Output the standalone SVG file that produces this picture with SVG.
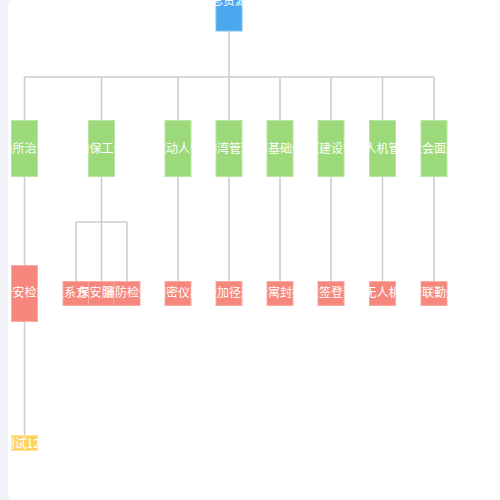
<svg xmlns="http://www.w3.org/2000/svg" width="500" height="500" viewBox="0 0 500 500">
<style>
.lk{fill:none;stroke:#cccccc;stroke-width:1.5}
.t{font-family:"Noto Sans CJK SC","Noto Sans",sans-serif;font-size:12px;fill:#ffffff;text-anchor:middle}
.b{fill:#4ba8ee;stroke:#7cc0f3;stroke-width:1}
.g{fill:#9bd97b;stroke:#b8e6a2;stroke-width:1}
.r{fill:#f5877d;stroke:#f8aaa3;stroke-width:1}
.y{fill:#fdd562;stroke:#fee28f;stroke-width:1}
</style>
<rect x="0" y="0" width="500" height="500" fill="#ffffff"/>
<g id="connectors">
<path class="lk" d="M229 31V77M24.5 77H434.5"/>
<path class="lk" d="M24.5 77V120M101.5 77V120M178 77V120M229 77V120M280 77V120M331 77V120M382.5 77V120M434 77V120"/>
<path class="lk" d="M24.5 177V265M24.5 322V435"/>
<path class="lk" d="M101.5 177V281M76 222H127M76 222V281M127 222V281"/>
<path class="lk" d="M178 177V281M229 177V281M280 177V281M331 177V281M382.5 177V281M434 177V281"/>
</g>
<g id="root"><rect class="b" x="216" y="-10" width="26" height="41"/><text class="t" x="229" y="5">总资源</text></g>
<g id="n1"><rect class="g" x="11.5" y="120.5" width="26" height="56"/><text class="t" x="24.5" y="153">场所治安</text></g>
<g id="n2"><rect class="g" x="88.5" y="120.5" width="26" height="56"/><text class="t" x="101.5" y="153">内保工作</text></g>
<g id="n3"><rect class="g" x="165" y="120.5" width="26" height="56"/><text class="t" x="178" y="153">流动人管</text></g>
<g id="n4"><rect class="g" x="216" y="120.5" width="26" height="56"/><text class="t" x="229" y="153">港湾管理</text></g>
<g id="n5"><rect class="g" x="267" y="120.5" width="26" height="56"/><text class="t" x="280" y="153">人口基础信息</text></g>
<g id="n6"><rect class="g" x="318" y="120.5" width="26" height="56"/><text class="t" x="331" y="153">队伍建设管理</text></g>
<g id="n7"><rect class="g" x="369.5" y="120.5" width="26" height="56"/><text class="t" x="382.5" y="153">无人机管控</text></g>
<g id="n8"><rect class="g" x="421" y="120.5" width="26" height="56"/><text class="t" x="434" y="153">社会面巡</text></g>
<g id="r1"><rect class="r" x="11.5" y="265.5" width="26" height="56"/><text class="t" x="24.5" y="297">治安检查</text></g>
<g id="r2"><rect class="r" x="63" y="281.5" width="26" height="24"/><text class="t" x="76" y="297">联系方式</text></g>
<g id="r3"><rect class="r" x="88.5" y="281.5" width="26" height="24"/><text class="t" x="101.5" y="297">保安服务</text></g>
<g id="r4"><rect class="r" x="114" y="281.5" width="26" height="24"/><text class="t" x="127" y="297">消防检查</text></g>
<g id="r5"><rect class="r" x="165" y="281.5" width="26" height="24"/><text class="t" x="178" y="297">精密仪器</text></g>
<g id="r6"><rect class="r" x="216" y="281.5" width="26" height="24"/><text class="t" x="229" y="297">叠加径迹</text></g>
<g id="r7"><rect class="r" x="267" y="281.5" width="26" height="24"/><text class="t" x="280" y="297">公寓封控</text></g>
<g id="r8"><rect class="r" x="318" y="281.5" width="26" height="24"/><text class="t" x="331" y="297">入签登记</text></g>
<g id="r9"><rect class="r" x="369.5" y="281.5" width="26" height="24"/><text class="t" x="382.5" y="297">无人机</text></g>
<g id="r10"><rect class="r" x="421" y="281.5" width="26" height="24"/><text class="t" x="434" y="297">警联勤务</text></g>
<g id="y1"><rect class="y" x="11.5" y="435.5" width="26" height="15"/><text class="t" x="24.5" y="447.5">测试123</text></g>
<path d="M0 0H14A6 6 0 0 0 8 6V494A6 6 0 0 0 14 500H0Z" fill="#f2f3f8"/>
</svg>
